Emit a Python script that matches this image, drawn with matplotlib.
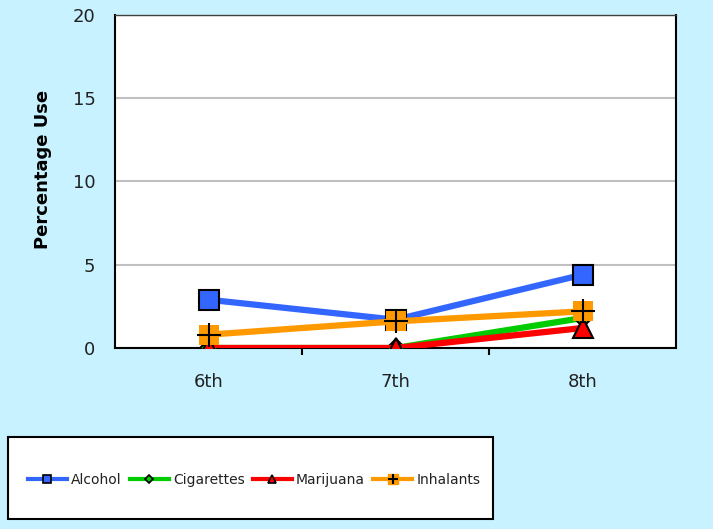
import matplotlib.pyplot as plt
from matplotlib.lines import Line2D
from matplotlib.patches import Rectangle

# data
grades = ['6th', '7th', '8th']
alcohol = [2.9, 1.7, 4.4]
cigarettes = [0.0, 0.0, 1.8]
marijuana = [0.0, 0.0, 1.2]
inhalants = [0.8, 1.6, 2.2]
yticks = [0, 5, 10, 15, 20]

bg = '#C8F2FF'
blue = '#3366FF'
green = '#00CC00'
red = '#FF0000'
orange = '#FF9900'

plt.rcParams['font.family'] = ['DejaVu Sans']

fig = plt.figure(figsize=(7.13, 5.29), dpi=100, facecolor=bg)
ax = fig.add_axes([115 / 713, 1 - 348 / 529, (676 - 115) / 713, (348 - 15) / 529])
ax.set_facecolor('white')

x = list(range(len(grades)))
lw = 4.5
ms = 15

ax.plot(x, alcohol, color=blue, lw=lw, marker='s', ms=ms, mfc=blue, mec='black', mew=1.5, zorder=3)
ax.plot(x, cigarettes, color=green, lw=lw, marker='D', ms=9, mfc=green, mec='black', mew=1.5, zorder=4)
ax.plot(x, marijuana, color=red, lw=lw, marker='^', ms=ms, mfc=red, mec='black', mew=1.5, zorder=5)
ax.plot(x, inhalants, color=orange, lw=lw, marker='s', ms=ms, mfc=orange, mec=orange, mew=0, zorder=6)
ax.plot(x, inhalants, ls='none', marker='+', ms=ms + 2, mec='black', mew=1.5, zorder=7)

ax.set_xlim(-0.5, 2.5)
ax.set_ylim(0, 20)
ax.set_yticks(yticks)
ax.tick_params(axis='y', length=0, labelsize=13, pad=14, labelcolor='#222222')
ax.set_xticks(x)
ax.set_xticklabels(grades, fontsize=13, color='#222222')
ax.set_xticks([0.5, 1.5], minor=True)
ax.tick_params(axis='x', which='major', length=0, pad=18)
ax.tick_params(axis='x', which='minor', length=5, width=1.5, direction='out')
ax.yaxis.grid(True, color='#C0C0C0', lw=1.5)
ax.set_axisbelow(True)
for s in ax.spines.values():
    s.set_color('black')
    s.set_linewidth(1.5)
ax.spines['top'].set_color('#404040')
ax.spines['top'].set_linewidth(1)
ax.set_ylabel('Percentage Use', fontsize=13, fontweight='bold')
ax.yaxis.set_label_coords(-0.112, 0.535)

# legend box
fig.patches.append(Rectangle((8 / 713, 1 - 519 / 529), (493 - 8) / 713, (519 - 437) / 529,
                             transform=fig.transFigure, facecolor='white',
                             edgecolor='black', lw=1.5, zorder=1))
handles = [
    Line2D([], [], color=blue, lw=3, marker='s', ms=6, mfc=blue, mec='black', mew=1.2),
    Line2D([], [], color=green, lw=3, marker='D', ms=4, mfc=green, mec='black', mew=1.2),
    Line2D([], [], color=red, lw=3, marker='^', ms=6, mfc=red, mec='black', mew=1.2),
    (Line2D([], [], color=orange, lw=3, marker='s', ms=7, mfc=orange, mec=orange),
     Line2D([], [], ls='none', marker='+', ms=7, mec='black', mew=1.5)),
]
labels = ['Alcohol', 'Cigarettes', 'Marijuana', 'Inhalants']
leg = fig.legend(handles, labels, loc='center', ncol=4, fontsize=10,
                 bbox_to_anchor=(254 / 713, 1 - 480 / 529),
                 frameon=False, handlelength=2.8, handletextpad=0.3,
                 columnspacing=0.6)
for t in leg.get_texts():
    t.set_color('#222222')

fig.savefig('out.png', dpi=100, facecolor=bg)
